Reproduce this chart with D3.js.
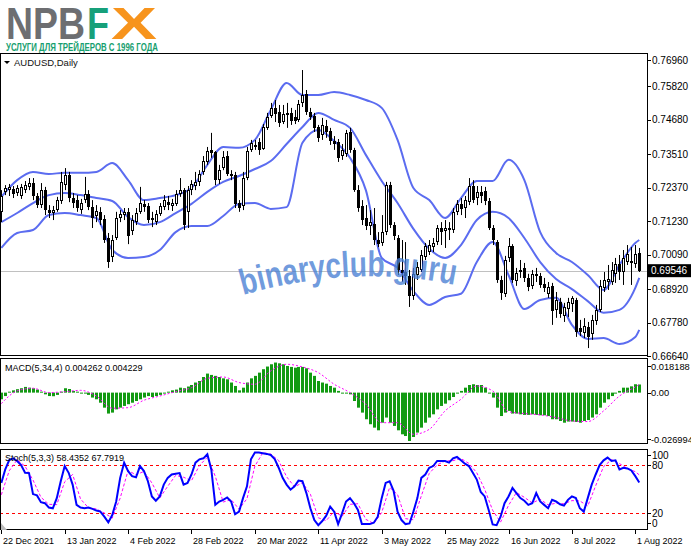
<!DOCTYPE html>
<html>
<head>
<meta charset="utf-8">
<script src="https://cdn.jsdelivr.net/npm/d3@7/dist/d3.min.js"></script>
<style>
  body { margin: 0; background: #fff; }
  svg { display: block; }
  text { font-family: "Liberation Sans", Arial, sans-serif; }
</style>
</head>
<body>
<script>
/*global d3*/

// AUDUSD daily candles (one value per bar)
const openP = [0.7155,0.7223,0.7229,0.7233,0.7219,0.7209,0.7229,0.7240,0.7253,0.7209,
  0.7178,0.7229,0.7161,0.7151,0.7161,0.7192,0.7246,0.7281,0.7202,0.7195,
  0.7161,0.7195,0.7216,0.7171,0.7141,0.7155,0.7131,0.7066,0.7001,0.7066,
  0.7134,0.7144,0.7155,0.7090,0.7120,0.7155,0.7182,0.7175,0.7127,0.7120,
  0.7148,0.7171,0.7188,0.7175,0.7182,0.7216,0.7229,0.7155,0.7229,0.7243,
  0.7257,0.7291,0.7325,0.7366,0.7359,0.7263,0.7304,0.7345,0.7284,0.7281,
  0.7185,0.7175,0.7270,0.7366,0.7383,0.7393,0.7369,0.7441,0.7481,0.7509,
  0.7495,0.7461,0.7485,0.7492,0.7478,0.7468,0.7526,0.7557,0.7495,0.7481,
  0.7444,0.7417,0.7447,0.7430,0.7396,0.7393,0.7345,0.7352,0.7427,0.7366,
  0.7229,0.7175,0.7134,0.7107,0.7114,0.7059,0.7049,0.7086,0.7246,0.7110,
  0.7066,0.6957,0.6950,0.6937,0.6868,0.6940,0.6957,0.7001,0.7018,0.7035,
  0.7052,0.7100,0.7090,0.7100,0.7093,0.7155,0.7182,0.7168,0.7188,0.7243,
  0.7202,0.7223,0.7226,0.7192,0.7100,0.7052,0.6923,0.6876,0.6998,0.7039,
  0.6920,0.6950,0.6964,0.6930,0.6903,0.6943,0.6937,0.6909,0.6876,0.6903,
  0.6821,0.6848,0.6800,0.6824,0.6841,0.6855,0.6760,0.6743,0.6763,0.6739,
  0.6783,0.6821,0.6896,0.6916,0.6916,0.6943,0.6977,0.6950,0.6984,0.6984,
  0.6977,0.7015];
const highP = [0.7229,0.7246,0.7250,0.7243,0.7246,0.7250,0.7260,0.7270,0.7270,0.7219,
  0.7253,0.7240,0.7178,0.7175,0.7206,0.7291,0.7304,0.7291,0.7219,0.7212,
  0.7199,0.7274,0.7229,0.7195,0.7178,0.7171,0.7144,0.7083,0.7076,0.7155,
  0.7161,0.7168,0.7168,0.7144,0.7168,0.7240,0.7195,0.7185,0.7155,0.7161,
  0.7185,0.7212,0.7209,0.7199,0.7229,0.7270,0.7236,0.7243,0.7263,0.7291,
  0.7297,0.7345,0.7376,0.7424,0.7362,0.7315,0.7362,0.7362,0.7297,0.7291,
  0.7195,0.7291,0.7376,0.7400,0.7400,0.7406,0.7454,0.7492,0.7526,0.7536,
  0.7519,0.7519,0.7526,0.7509,0.7502,0.7536,0.7638,0.7570,0.7509,0.7492,
  0.7451,0.7475,0.7468,0.7441,0.7413,0.7403,0.7386,0.7434,0.7441,0.7373,
  0.7246,0.7195,0.7178,0.7161,0.7168,0.7086,0.7144,0.7257,0.7257,0.7120,
  0.7076,0.7059,0.7052,0.6957,0.6964,0.6984,0.7025,0.7049,0.7059,0.7066,
  0.7110,0.7120,0.7127,0.7120,0.7168,0.7195,0.7202,0.7209,0.7270,0.7263,
  0.7243,0.7243,0.7240,0.7202,0.7110,0.7059,0.6937,0.7005,0.7066,0.7045,
  0.6964,0.6991,0.6981,0.6944,0.6957,0.6964,0.6947,0.6930,0.6916,0.6913,
  0.6882,0.6862,0.6845,0.6862,0.6868,0.6862,0.6787,0.6793,0.6780,0.6804,
  0.6838,0.6923,0.6950,0.6974,0.6984,0.6998,0.7008,0.7025,0.7042,0.7035,
  0.7042,0.7032];
const lowP = [0.7120,0.7212,0.7209,0.7202,0.7209,0.7199,0.7219,0.7229,0.7195,0.7168,
  0.7168,0.7144,0.7134,0.7127,0.7155,0.7182,0.7229,0.7188,0.7168,0.7155,
  0.7148,0.7185,0.7161,0.7100,0.7120,0.7110,0.7049,0.6964,0.6984,0.7059,
  0.7120,0.7127,0.7045,0.7076,0.7110,0.7148,0.7155,0.7117,0.7103,0.7110,
  0.7141,0.7161,0.7161,0.7158,0.7175,0.7206,0.7093,0.7100,0.7212,0.7229,
  0.7243,0.7281,0.7315,0.7339,0.7246,0.7250,0.7297,0.7277,0.7263,0.7168,
  0.7155,0.7161,0.7263,0.7359,0.7366,0.7349,0.7366,0.7434,0.7475,0.7461,
  0.7444,0.7454,0.7441,0.7451,0.7454,0.7461,0.7512,0.7485,0.7468,0.7427,
  0.7393,0.7400,0.7407,0.7383,0.7366,0.7325,0.7332,0.7342,0.7356,0.7223,
  0.7155,0.7110,0.7093,0.7076,0.7042,0.7035,0.7039,0.7076,0.7100,0.7059,
  0.6940,0.6916,0.6906,0.6831,0.6855,0.6923,0.6950,0.6991,0.7008,0.7018,
  0.7042,0.7042,0.7032,0.7059,0.7083,0.7144,0.7144,0.7134,0.7178,0.7185,
  0.7178,0.7185,0.7178,0.7093,0.7042,0.6913,0.6855,0.6865,0.6984,0.6913,
  0.6903,0.6930,0.6916,0.6885,0.6892,0.6916,0.6896,0.6882,0.6862,0.6770,
  0.6794,0.6794,0.6780,0.6797,0.6814,0.6729,0.6732,0.6725,0.6691,0.6719,
  0.6770,0.6814,0.6882,0.6889,0.6906,0.6913,0.6923,0.6906,0.6974,0.6906,
  0.6964,0.6950];
const closeP = [0.7209,0.7236,0.7240,0.7216,0.7236,0.7240,0.7246,0.7253,0.7209,0.7178,
  0.7229,0.7161,0.7151,0.7161,0.7195,0.7257,0.7281,0.7202,0.7185,0.7168,
  0.7185,0.7216,0.7171,0.7134,0.7158,0.7127,0.7059,0.6984,0.7059,0.7134,
  0.7148,0.7155,0.7073,0.7127,0.7151,0.7185,0.7171,0.7127,0.7134,0.7148,
  0.7175,0.7195,0.7178,0.7185,0.7216,0.7229,0.7110,0.7229,0.7250,0.7257,
  0.7284,0.7328,0.7362,0.7356,0.7263,0.7297,0.7342,0.7284,0.7277,0.7182,
  0.7168,0.7270,0.7362,0.7390,0.7376,0.7366,0.7444,0.7478,0.7509,0.7488,
  0.7458,0.7488,0.7492,0.7464,0.7464,0.7522,0.7553,0.7495,0.7478,0.7441,
  0.7407,0.7451,0.7427,0.7396,0.7386,0.7339,0.7366,0.7424,0.7366,0.7229,
  0.7168,0.7127,0.7107,0.7120,0.7059,0.7045,0.7086,0.7246,0.7110,0.7073,
  0.6957,0.6947,0.6937,0.6868,0.6943,0.6967,0.7008,0.7039,0.7042,0.7049,
  0.7100,0.7086,0.7100,0.7093,0.7155,0.7182,0.7165,0.7195,0.7243,0.7195,
  0.7223,0.7209,0.7192,0.7100,0.7059,0.6923,0.6879,0.6991,0.7039,0.6923,
  0.6947,0.6957,0.6930,0.6899,0.6943,0.6937,0.6906,0.6896,0.6899,0.6817,
  0.6855,0.6807,0.6831,0.6848,0.6862,0.6746,0.6746,0.6766,0.6729,0.6787,
  0.6821,0.6903,0.6923,0.6927,0.6957,0.6977,0.6950,0.6998,0.7012,0.6988,
  0.7012,0.69546];

// Bollinger bands, read every 4th bar (and the last bar)
const bandUpper = [0.7206,0.7263,0.7291,0.7284,0.7288,0.7288,0.7291,0.7321,0.7263,0.7195,
  0.7202,0.7212,0.7236,0.7315,0.7376,0.7373,0.7400,0.7502,0.7594,0.7553,
  0.7553,0.7563,0.7553,0.7536,0.7509,0.7400,0.7236,0.7195,0.7134,0.7202,
  0.7260,0.7260,0.7332,0.7263,0.7086,0.7015,0.6984,0.6940,0.6889,0.6974,
  0.7049,0.7059];
const bandMiddle = [0.7120,0.7151,0.7185,0.7212,0.7219,0.7212,0.7202,0.7192,0.7137,0.7110,
  0.7120,0.7151,0.7182,0.7223,0.7257,0.7277,0.7301,0.7328,0.7386,0.7444,
  0.7492,0.7468,0.7441,0.7349,0.7260,0.7185,0.7097,0.7029,0.6998,0.7042,
  0.7127,0.7155,0.7134,0.7066,0.6984,0.6926,0.6892,0.6851,0.6811,0.6821,
  0.6896,0.6930];
const bandLower = [0.7032,0.7083,0.7093,0.7144,0.7151,0.7144,0.7134,0.7025,0.6998,0.7001,
  0.7025,0.7086,0.7107,0.7107,0.7141,0.7182,0.7185,0.7165,0.7171,0.7390,
  0.7434,0.7396,0.7339,0.7229,0.6998,0.6964,0.6885,0.6838,0.6865,0.6876,
  0.6984,0.7052,0.6940,0.6824,0.6855,0.6862,0.6770,0.6722,0.6725,0.6705,
  0.6729,0.6753];

// MACD(5,34,4): histogram per bar, signal every 4th bar
const macdMain = [-0.0035,-0.0018,0.0005,0.0012,0.0018,0.0023,0.0030,0.0026,0.0023,0.0016,
  0.0005,-0.0009,-0.0018,-0.0019,-0.0012,0.0005,0.0023,0.0019,0.0009,0.0005,
  -0.0003,-0.0004,-0.0012,-0.0026,-0.0035,-0.0053,-0.0079,-0.0110,-0.0105,-0.0088,
  -0.0079,-0.0070,-0.0061,-0.0053,-0.0044,-0.0035,-0.0026,-0.0018,-0.0023,-0.0018,
  -0.0012,-0.0004,0.0005,0.0012,0.0016,0.0026,0.0023,0.0032,0.0040,0.0053,
  0.0061,0.0082,0.0100,0.0093,0.0088,0.0082,0.0075,0.0070,0.0053,0.0035,
  0.0012,0.0026,0.0053,0.0075,0.0088,0.0105,0.0123,0.0137,0.0149,0.0158,
  0.0154,0.0149,0.0140,0.0135,0.0131,0.0135,0.0135,0.0128,0.0105,0.0088,
  0.0061,0.0053,0.0047,0.0035,0.0026,0.0009,-0.0005,-0.0004,-0.0009,-0.0044,
  -0.0079,-0.0105,-0.0140,-0.0166,-0.0184,-0.0198,-0.0158,-0.0131,-0.0158,-0.0175,
  -0.0198,-0.0219,-0.0228,-0.0254,-0.0233,-0.0210,-0.0184,-0.0158,-0.0131,-0.0114,
  -0.0088,-0.0070,-0.0058,-0.0040,-0.0023,-0.0005,0.0009,0.0026,0.0040,0.0044,
  0.0040,0.0040,0.0026,-0.0005,-0.0026,-0.0079,-0.0123,-0.0105,-0.0096,-0.0110,
  -0.0110,-0.0114,-0.0117,-0.0117,-0.0114,-0.0117,-0.0119,-0.0119,-0.0123,-0.0140,
  -0.0140,-0.0149,-0.0158,-0.0152,-0.0152,-0.0154,-0.0158,-0.0149,-0.0144,-0.0131,
  -0.0114,-0.0079,-0.0053,-0.0035,-0.0018,-0.0005,0.0009,0.0026,0.0026,0.0033,
  0.0044,0.004262];
const macdSignal = [-0.0058,0.0009,0.0023,0.0000,0.0005,0.0012,-0.0018,-0.0082,-0.0079,-0.0040,
  -0.0018,0.0005,0.0026,0.0075,0.0082,0.0053,0.0044,0.0114,0.0149,0.0135,
  0.0105,0.0044,0.0000,-0.0061,-0.0158,-0.0158,-0.0219,-0.0193,-0.0096,-0.0035,
  0.0035,0.0009,-0.0100,-0.0110,-0.0117,-0.0131,-0.0149,-0.0152,-0.0096,-0.0018,
  0.0030,0.004229];

// Stochastic(5,3,3): main per bar, signal every 2nd bar
const stochMain = [57.8,74.6,86.3,88.4,85.1,80.0,70.4,70.0,43.9,42.3,
  33.9,32.6,27.2,26.3,38.9,59.9,78.8,70.4,55.7,30.5,
  27.2,26.3,27.2,25.5,23.4,22.1,15.8,8.7,17.9,34.7,
  64.1,83.0,72.5,66.2,64.9,78.8,72.5,59.9,41.0,35.6,
  41.0,55.7,64.1,68.3,69.1,70.0,55.7,57.8,68.3,83.0,
  87.2,88.4,93.5,74.6,30.5,34.7,36.8,39.7,34.7,18.8,
  22.1,38.9,53.6,87.2,95.6,95.6,94.7,93.9,92.6,87.6,
  76.7,64.1,55.7,49.4,53.6,60.7,59.9,45.2,26.3,11.6,
  5.3,10.4,17.1,28.4,22.1,6.6,20.0,34.7,38.9,32.6,
  24.2,6.6,6.6,6.6,8.3,15.8,38.9,57.8,59.9,48.1,
  22.1,11.6,6.6,7.4,22.1,38.9,64.1,68.3,76.7,78.8,
  85.1,85.1,85.1,83.0,88.4,90.1,85.9,81.7,78.8,70.4,
  62.0,46.5,41.0,24.2,6.2,5.3,15.8,32.6,41.0,51.5,
  45.2,38.9,35.6,30.5,32.6,45.2,34.7,30.5,26.3,36.8,
  34.7,31.3,29.6,36.8,41.0,38.9,26.3,22.1,38.9,55.7,
  68.3,80.0,85.9,89.3,85.1,85.9,74.6,76.7,75.8,73.3,
  66.2,58.4352];
const stochSignal = [43,72.9,86.6,78.5,61.4,40.0,31.2,30.8,59.2,68.3,
  37.8,26.9,25.4,20.4,14.1,38.9,73.2,67.9,72.1,57.8,
  39.2,53.6,67.2,64.9,60.6,79.5,89.7,66.2,34.0,37.1,
  25.2,38.2,78.8,95.3,93.7,85.6,65.5,52.9,58.1,43.8,
  14.4,10.9,22.5,16.2,31.2,31.9,12.5,7.2,21.0,52.2,
  43.4,13.4,12.0,41.7,69.7,80.2,85.1,85.5,88.1,82.1,
  70.4,49.8,23.8,9.1,29.8,45.9,39.9,32.9,37.5,30.5,
  32.6,31.9,35.8,35.4,29.1,54.3,78.1,86.8,81.9,75.7,
  71.8,67.7919];

// axis labels
const dateLabels = ['22 Dec 2021','13 Jan 2022','4 Feb 2022','28 Feb 2022','20 Mar 2022',
  '11 Apr 2022','3 May 2022','25 May 2022','16 Jun 2022','8 Jul 2022','1 Aug 2022'];
const priceTicks = [0.76960,0.75820,0.74680,0.73510,0.72370,0.71230,0.70090,0.68920,0.67780,0.66640];
const macdTicks = [0.018188, 0, -0.026994];
const macdTickText = ['0.018188','0.00','-0.026994'];
const stochTicks = [100, 80, 20, 0];
const stochLevels = [80, 20];
const lastPrice = 0.69546;

// layout
const W = 691, H = 549;
const plotRight = 647;
const main = {top: 53, bottom: 356};
const macdBox = {top: 358, bottom: 444};
const stochBox = {top: 449, bottom: 530};

const svg = d3.select('body').append('svg')
  .attr('width', W).attr('height', H);

// bar index -> x
const nBars = closeP.length;
const xScale = d3.scaleLinear().domain([0, 160]).range([1.3, 635.3]);
const bx = i => Math.round(xScale(i));

const yPrice = d3.scaleLinear().domain([0.6664, 0.7696]).range([main.bottom, main.top]);
const yMacd = d3.scaleLinear().domain([-0.026994, 0.018188]).range([macdBox.bottom, macdBox.top]);
const yStoch = d3.scaleLinear().domain([0, 100]).range([529.4, stochBox.top]);

const bandIdx = d3.range(0, 161, 4).concat([161]);
const sigIdx2 = d3.range(0, 161, 2).concat([161]);

// clip paths for each panel
const defs = svg.append('defs');
[['clipMain', main], ['clipMacd', macdBox], ['clipStoch', stochBox]].forEach(function(c){
  defs.append('clipPath').attr('id', c[0]).append('rect')
    .attr('x', 1).attr('y', c[1].top + 1)
    .attr('width', plotRight - 1).attr('height', c[1].bottom - c[1].top - 1);
});

// ---- logo ----
const logo = svg.append('g');
const bigText = logo.append('text').attr('y', 39)
  .attr('font-size', 44).attr('font-weight', 'bold');
bigText.append('tspan').attr('x', 6).attr('fill', '#6d6e71')
  .attr('textLength', 79).attr('lengthAdjust', 'spacingAndGlyphs').text('NPB');
bigText.append('tspan').attr('x', 87).attr('fill', '#16a07a')
  .attr('textLength', 22).attr('lengthAdjust', 'spacingAndGlyphs').text('F');
bigText.append('tspan').attr('x', 111).attr('fill', '#f7941d')
  .attr('textLength', 46).attr('lengthAdjust', 'spacingAndGlyphs').text('X');
logo.append('text').attr('x', 6).attr('y', 50.5)
  .attr('font-size', 10.5).attr('font-weight', 'bold')
  .attr('fill', '#17a06f')
  .attr('textLength', 152).attr('lengthAdjust', 'spacingAndGlyphs')
  .text('УСЛУГИ ДЛЯ ТРЕЙДЕРОВ С 1996 ГОДА');

// ---- panel frames ----
[main, macdBox, stochBox].forEach(function(p){
  svg.append('rect')
    .attr('x', 0.5).attr('y', p.top + 0.5)
    .attr('width', plotRight).attr('height', p.bottom - p.top - 1)
    .attr('fill', 'none').attr('stroke', '#000').attr('stroke-width', 1);
});

// ---- main chart ----
const gMain = svg.append('g').attr('clip-path', 'url(#clipMain)');

// current price line
gMain.append('line')
  .attr('x1', 0).attr('x2', plotRight)
  .attr('y1', Math.round(yPrice(lastPrice)) + 0.5).attr('y2', Math.round(yPrice(lastPrice)) + 0.5)
  .attr('stroke', '#c0c0c0').attr('stroke-width', 1);

// bollinger bands
const bandLine = d3.line()
  .x(function(d){ return xScale(d.i); })
  .y(function(d){ return yPrice(d.v); })
  .curve(d3.curveMonotoneX);
[bandUpper, bandMiddle, bandLower].forEach(function(arr){
  gMain.append('path')
    .datum(bandIdx.map(function(idx, k){ return {i: idx, v: arr[k]}; }))
    .attr('d', bandLine)
    .attr('fill', 'none').attr('stroke', '#5b6cf0').attr('stroke-width', 2);
});

// candles
const candles = gMain.append('g')
  .selectAll('g')
  .data(d3.range(nBars))
  .join('g');
candles.append('line')
  .attr('x1', function(i){ return bx(i) + 0.5; })
  .attr('x2', function(i){ return bx(i) + 0.5; })
  .attr('y1', function(i){ return yPrice(highP[i]); })
  .attr('y2', function(i){ return yPrice(lowP[i]); })
  .attr('stroke', '#000').attr('stroke-width', 1);
candles.append('rect')
  .attr('x', function(i){ return closeP[i] >= openP[i] ? bx(i) - 0.5 : bx(i) - 1; })
  .attr('width', function(i){ return closeP[i] >= openP[i] ? 2 : 3; })
  .attr('y', function(i){
    const t = Math.round(yPrice(Math.max(openP[i], closeP[i])));
    return closeP[i] >= openP[i] ? t + 0.5 : t;
  })
  .attr('height', function(i){
    const h = Math.round(Math.abs(yPrice(openP[i]) - yPrice(closeP[i])));
    return closeP[i] >= openP[i] ? Math.max(h - 1, 1) : Math.max(h, 1);
  })
  .attr('fill', function(i){ return closeP[i] >= openP[i] ? '#fff' : '#000'; })
  .attr('stroke', function(i){ return closeP[i] >= openP[i] ? '#000' : 'none'; })
  .attr('stroke-width', 1);

// chart title
svg.append('path').attr('d', 'M4,61 L10,61 L7,64 Z').attr('fill', '#000');
svg.append('text').attr('x', 14).attr('y', 66)
  .attr('font-size', 9.5).attr('fill', '#111')
  .text('AUDUSD,Daily');

// price axis
const priceAxis = svg.append('g');
priceTicks.forEach(function(v){
  const yy = Math.max(60, yPrice(v));
  priceAxis.append('line')
    .attr('x1', plotRight).attr('x2', plotRight + 4)
    .attr('y1', Math.round(yy) + 0.5).attr('y2', Math.round(yy) + 0.5)
    .attr('stroke', '#000');
  priceAxis.append('text')
    .attr('x', 652).attr('y', yy + 3.5)
    .attr('font-size', 10).attr('fill', '#000')
    .text(v.toFixed(5));
});
// last price tag
const ly = yPrice(lastPrice);
svg.append('rect').attr('x', 648).attr('y', ly - 6.5)
  .attr('width', 43).attr('height', 13).attr('fill', '#000');
svg.append('text').attr('x', 651).attr('y', ly + 3.5)
  .attr('font-size', 10).attr('fill', '#fff')
  .text(lastPrice.toFixed(5));

// ---- MACD panel ----
const gMacd = svg.append('g').attr('clip-path', 'url(#clipMacd)');
gMacd.selectAll('rect')
  .data(macdMain)
  .join('rect')
  .attr('x', function(d, i){ return bx(i) - 1; })
  .attr('width', 3)
  .attr('y', function(d){ return Math.min(yMacd(0), yMacd(d)); })
  .attr('height', function(d){ return Math.max(1, Math.abs(yMacd(d) - yMacd(0))); })
  .attr('fill', '#129a12');
gMacd.append('path')
  .datum(bandIdx.map(function(idx, k){ return {i: idx, v: macdSignal[k]}; }))
  .attr('d', d3.line()
    .x(function(d){ return xScale(d.i); })
    .y(function(d){ return yMacd(d.v); })
    .curve(d3.curveMonotoneX))
  .attr('fill', 'none').attr('stroke', '#ff00ff')
  .attr('stroke-width', 1).attr('stroke-dasharray', '2,2');

svg.append('text').attr('x', 5).attr('y', 371)
  .attr('font-size', 9).attr('fill', '#000')
  .text('MACD(5,34,4) 0.004262 0.004229');

macdTicks.forEach(function(v, k){
  const yy = Math.min(439, Math.max(366, yMacd(v)));
  svg.append('line')
    .attr('x1', plotRight).attr('x2', plotRight + 4)
    .attr('y1', Math.round(yy) + 0.5).attr('y2', Math.round(yy) + 0.5)
    .attr('stroke', '#000');
  svg.append('text').attr('x', 651).attr('y', yy + 3.5)
    .attr('font-size', 9.3).attr('fill', '#000')
    .text(macdTickText[k]);
});

// ---- Stochastic panel ----
const gStoch = svg.append('g').attr('clip-path', 'url(#clipStoch)');
stochLevels.forEach(function(v){
  gStoch.append('line')
    .attr('x1', 0).attr('x2', plotRight)
    .attr('y1', Math.round(yStoch(v)) + 0.5).attr('y2', Math.round(yStoch(v)) + 0.5)
    .attr('stroke', '#ff0000').attr('stroke-dasharray', '3,3');
});
gStoch.append('path')
  .datum(sigIdx2.map(function(idx, k){ return {i: idx, v: stochSignal[k]}; }))
  .attr('d', d3.line()
    .x(function(d){ return xScale(d.i); })
    .y(function(d){ return yStoch(d.v); }))
  .attr('fill', 'none').attr('stroke', '#ff00ff')
  .attr('stroke-width', 1).attr('stroke-dasharray', '3,2');
gStoch.append('path')
  .datum(stochMain)
  .attr('d', d3.line()
    .x(function(d, i){ return xScale(i); })
    .y(function(d){ return yStoch(d); }))
  .attr('fill', 'none').attr('stroke', '#0000ff').attr('stroke-width', 2);
svg.append('path').attr('d', 'M1,523 L1,530 L7,530 Z').attr('fill', '#bbb');

svg.append('text').attr('x', 5).attr('y', 461)
  .attr('font-size', 9).attr('fill', '#000')
  .text('Stoch(5,3,3) 58.4352 67.7919');

stochTicks.forEach(function(v){
  const yy = Math.min(523, Math.max(455, yStoch(v)));
  svg.append('line')
    .attr('x1', plotRight).attr('x2', plotRight + 4)
    .attr('y1', Math.round(yy) + 0.5).attr('y2', Math.round(yy) + 0.5)
    .attr('stroke', '#000');
  svg.append('text').attr('x', 652).attr('y', yy + 3.5)
    .attr('font-size', 10).attr('fill', '#000')
    .text(v);
});

// ---- date axis ----
dateLabels.forEach(function(lab, k){
  const xx = bx(k * 16);
  svg.append('line')
    .attr('x1', xx + 0.5).attr('x2', xx + 0.5)
    .attr('y1', stochBox.bottom).attr('y2', stochBox.bottom + 4)
    .attr('stroke', '#000');
  svg.append('text').attr('x', xx + 2).attr('y', 544)
    .attr('font-size', 9).attr('fill', '#000')
    .text(lab);
});

// ---- watermark ----
defs.append('path').attr('id', 'wmPath').attr('d', 'M243,295 Q355,263 460,286');
svg.append('text')
  .attr('font-size', 36).attr('font-weight', 'bold')
  .attr('fill', '#4a7fd4').attr('fill-opacity', 0.78)
  .append('textPath').attr('href', '#wmPath')
  .attr('textLength', 214).attr('lengthAdjust', 'spacingAndGlyphs')
  .text('binaryclub.guru');
</script>
</body>
</html>
